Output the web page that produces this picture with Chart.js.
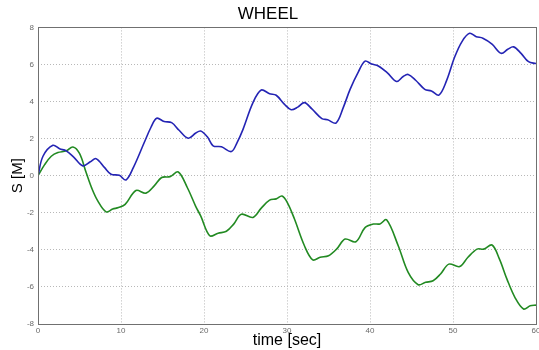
<!DOCTYPE html>
<html>
<head>
<meta charset="utf-8">
<script src="https://cdn.jsdelivr.net/npm/chart.js@4"></script>
<style>
  html, body { margin: 0; padding: 0; background: #fff; }
  #wrap { width: 539px; height: 350px; }
</style>
</head>
<body>
<div id="wrap"><canvas id="wheel" width="539" height="350"></canvas></div>
<script>
// values
var blueT = [0, 0.6, 1.8, 2.6, 3.4, 4.3, 5.4, 6.3, 7.0, 8.0, 8.8, 9.8, 10.6, 11.5, 12.8, 13.6, 14.3, 15.2, 16.1, 17.0, 18.1, 19.0, 19.6, 20.4, 21.1, 22.1, 23.3, 24.0, 24.7, 25.9, 26.9, 27.9, 28.7, 29.7, 30.5, 31.3, 32.1, 33.0, 34.2, 34.9, 35.9, 36.8, 37.6, 38.6, 39.4, 40.2, 41.0, 42.1, 43.2, 44.0, 44.6, 45.5, 46.6, 47.4, 48.3, 49.2, 50.2, 51.1, 52.0, 52.8, 53.6, 54.7, 55.8, 56.6, 57.3, 58.2, 59.1, 60];
var blueS = [0, 1.05, 1.64, 1.45, 1.34, 1.0, 0.53, 0.75, 0.92, 0.45, 0.08, 0.02, -0.23, 0.45, 1.79, 2.6, 3.1, 2.92, 2.86, 2.45, 2.02, 2.3, 2.41, 2.1, 1.61, 1.56, 1.3, 1.8, 2.5, 3.94, 4.62, 4.42, 4.34, 3.85, 3.56, 3.7, 3.94, 3.6, 3.08, 3.02, 2.84, 3.7, 4.66, 5.6, 6.18, 6.02, 5.92, 5.55, 5.08, 5.35, 5.46, 5.15, 4.66, 4.57, 4.35, 5.1, 6.4, 7.25, 7.68, 7.5, 7.42, 7.1, 6.6, 6.82, 6.95, 6.6, 6.15, 6.05];
var greenT = [0, 0.8, 1.6, 2.4, 3.4, 4.2, 5.0, 5.8, 6.5, 7.2, 8.2, 9.0, 9.7, 10.5, 11.8, 13.0, 14.0, 14.9, 15.9, 16.9, 18.0, 19.0, 19.6, 20.7, 21.7, 22.7, 23.6, 24.5, 25.9, 26.9, 27.9, 28.7, 29.4, 30.1, 30.9, 32.1, 33.1, 34.0, 35.0, 36.0, 37.0, 38.3, 39.4, 40.4, 41.2, 42.0, 43.4, 44.6, 45.8, 46.7, 47.6, 48.5, 49.5, 50.8, 51.8, 52.9, 53.7, 54.7, 55.6, 56.5, 57.5, 58.5, 59.3, 60];
var greenS = [0, 0.6, 1.05, 1.25, 1.34, 1.55, 1.2, 0.17, -0.7, -1.36, -1.95, -1.8, -1.72, -1.55, -0.8, -0.94, -0.55, -0.1, -0.05, 0.2, -0.65, -1.65, -2.17, -3.24, -3.1, -3.0, -2.6, -2.08, -2.25, -1.75, -1.32, -1.25, -1.1, -1.5, -2.34, -3.78, -4.54, -4.4, -4.32, -3.95, -3.42, -3.56, -2.8, -2.61, -2.6, -2.38, -3.78, -5.22, -5.88, -5.75, -5.67, -5.3, -4.77, -4.9, -4.4, -3.96, -3.96, -3.74, -4.5, -5.58, -6.6, -7.19, -7.02, -6.98];
var xTicks = [0, 10, 20, 30, 40, 50, 60];
var yTicks = [-8, -6, -4, -2, 0, 2, 4, 6, 8];

function pairs(t, s) {
  var out = [];
  for (var i = 0; i < t.length; i++) out.push({x: t[i], y: s[i]});
  return out;
}

// box around the plot, like the matlab axes
var box_plug = {
  id: 'box',
  afterDraw: function(chart) {
    var a = chart.chartArea, ctx = chart.ctx;
    ctx.save();
    ctx.strokeStyle = '#707070';
    ctx.lineWidth = 1;
    ctx.strokeRect(Math.round(a.left) + 0.5, Math.round(a.top) + 0.5,
      Math.round(a.right - a.left), Math.round(a.bottom - a.top));
    ctx.restore();
  }
};

var ctx = document.getElementById('wheel').getContext('2d');
var wheel = new Chart(ctx, {
  type: 'scatter',
  plugins: [box_plug],
  data: {
    datasets: [{
      data: pairs(blueT, blueS),
      showLine: true,
      borderColor: '#2424b4',
      borderWidth: 1.6,
      pointRadius: 0,
      tension: 0.35
    }, {
      data: pairs(greenT, greenS),
      showLine: true,
      borderColor: '#228a22',
      borderWidth: 1.6,
      pointRadius: 0,
      tension: 0.35
    }]
  },
  options: {
    responsive: false,
    animation: false,
    events: [],
    layout: { padding: { left: 0, right: 3, top: 0, bottom: 0 } },
    plugins: {
      legend: { display: false },
      tooltip: { enabled: false },
      title: {
        display: true,
        text: 'WHEEL',
        color: '#000',
        font: { family: 'Liberation Sans', size: 17, weight: 'normal' },
        padding: { top: 4, bottom: 3 }
      }
    },
    scales: {
      x: {
        type: 'linear',
        min: 0, max: 60,
        afterBuildTicks: function(s) { s.ticks = xTicks.map(function(v) { return {value: v}; }); },
        afterFit: function(s) { s.height = 26; s.paddingLeft = 0; s.paddingRight = 0; },
        grid: { color: '#b8b8b8', lineWidth: 1, drawTicks: false },
        border: { display: false, dash: [1, 2] },
        ticks: { color: '#6a6a6a', font: { family: 'Liberation Sans', size: 8 }, padding: 2, maxRotation: 0 },
        title: {
          display: true,
          text: 'time [sec]',
          color: '#000',
          font: { family: 'Liberation Sans', size: 16 },
          padding: { top: 0, bottom: 0 }
        }
      },
      y: {
        type: 'linear',
        min: -8, max: 8,
        afterBuildTicks: function(s) { s.ticks = yTicks.map(function(v) { return {value: v}; }); },
        afterFit: function(s) { s.width = 38; s.paddingTop = 0; s.paddingBottom = 0; },
        grid: { color: '#b8b8b8', lineWidth: 1, drawTicks: false },
        border: { display: false, dash: [1, 2] },
        ticks: { color: '#6a6a6a', font: { family: 'Liberation Sans', size: 8 }, padding: 4 },
        title: {
          display: true,
          text: 'S [M]',
          color: '#000',
          font: { family: 'Liberation Sans', size: 15 },
          padding: { top: 9, bottom: 0 }
        }
      }
    }
  }
});
</script>
</body>
</html>
